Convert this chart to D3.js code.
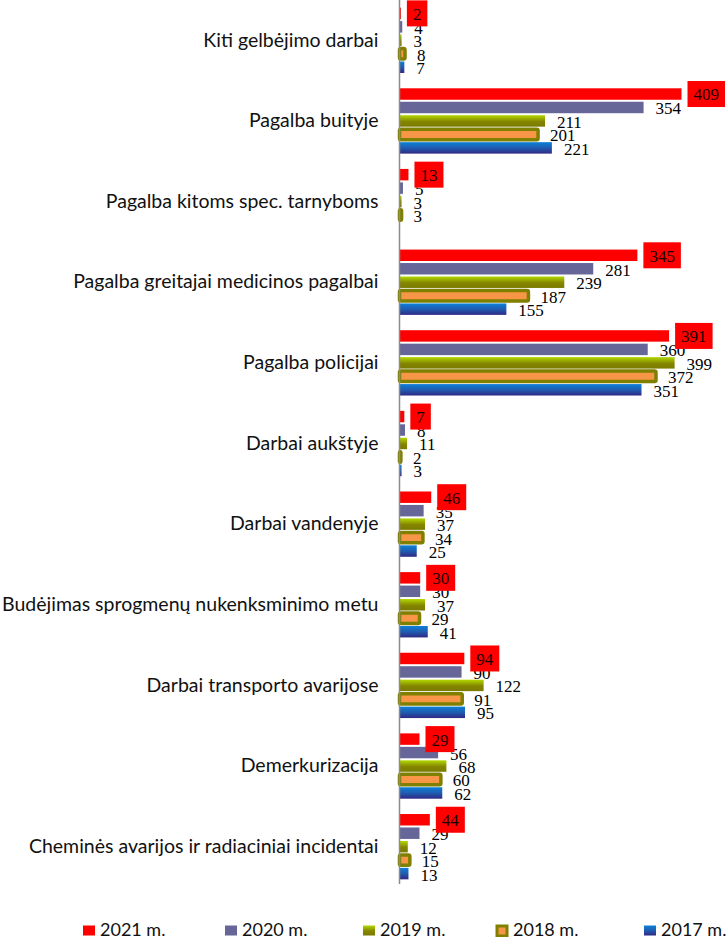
<!DOCTYPE html>
<html>
<head>
<meta charset="utf-8">
<script src="https://cdn.jsdelivr.net/npm/d3@7/dist/d3.min.js"></script>
<style>
  body { margin: 0; background: #fff; }
  #main { display: block; }
</style>
</head>
<body>
<svg id="main"></svg>
<script>
var svgW = 727;
var svgH = 937;

// categories, top to bottom
var cats = [
  "Kiti gelbėjimo darbai",
  "Pagalba buityje",
  "Pagalba kitoms spec. tarnyboms",
  "Pagalba greitajai medicinos pagalbai",
  "Pagalba policijai",
  "Darbai aukštyje",
  "Darbai vandenyje",
  "Budėjimas sprogmenų nukenksminimo metu",
  "Darbai transporto avarijose",
  "Demerkurizacija",
  "Cheminės avarijos ir radiaciniai incidentai"
];
var years = ["2021 m.", "2020 m.", "2019 m.", "2018 m.", "2017 m."];

var v2021 = [2, 409, 13, 345, 391, 7, 46, 30, 94, 29, 44];
var v2020 = [4, 354, 5, 281, 360, 8, 35, 30, 90, 56, 29];
var v2019 = [3, 211, 3, 239, 399, 11, 37, 37, 122, 68, 12];
var v2018 = [8, 201, 3, 187, 372, 2, 34, 29, 91, 60, 15];
var v2017 = [7, 221, null, 155, 351, 3, 25, 41, 95, 62, 13];

var vals = [v2021, v2020, v2019, v2018, v2017];

// legend x offsets (layout only)
var legendX = [83, 225, 363, 496, 644];

function draw() {
  var s = d3.select("#main").attr("width", svgW).attr("height", svgH);
  s.selectAll("*").remove();

  var defs = s.append("defs");
  var g19 = defs.append("linearGradient").attr("id", "g2019")
    .attr("x1", 0).attr("y1", 0).attr("x2", 0).attr("y2", 1);
  g19.append("stop").attr("offset", "0").attr("stop-color", "#b2d800");
  g19.append("stop").attr("offset", "0.55").attr("stop-color", "#858500");
  g19.append("stop").attr("offset", "1").attr("stop-color", "#7a7a00");
  var g17 = defs.append("linearGradient").attr("id", "g2017")
    .attr("x1", 0).attr("y1", 0).attr("x2", 0).attr("y2", 1);
  g17.append("stop").attr("offset", "0").attr("stop-color", "#0c80d8");
  g17.append("stop").attr("offset", "0.5").attr("stop-color", "#1f5cb0");
  g17.append("stop").attr("offset", "1").attr("stop-color", "#302884");

  var fills = ["#ff0000", "#666699", "url(#g2019)", "#f79646", "url(#g2017)"];

  var y0 = d3.scaleBand().domain(cats).range([0, 887])
    .paddingInner(0.19).paddingOuter(0.095);
  var y1 = d3.scaleBand().domain(years).range([0, y0.bandwidth()])
    .paddingInner(0.15);
  var x = d3.scaleLinear().domain([0, 500]).range([399.5, 399.5 + 500 * 0.6895]);

  var rows = [];
  cats.forEach(function(c, i) {
    years.forEach(function(yr, j) {
      if (vals[j][i] != null) rows.push({cat: c, year: yr, j: j, v: vals[j][i]});
    });
  });

  var bw = y1.bandwidth();
  var bars = s.append("g");
  bars.selectAll("rect").data(rows).enter().append("rect")
    .attr("x", x(0))
    .attr("y", function(d) { return y0(d.cat) + y1(d.year) + (d.j == 3 ? 0.5 : 0); })
    .attr("width", function(d) { return x(d.v) - x(0); })
    .attr("height", function(d) { return d.j == 3 ? bw - 1 : bw; })
    .attr("rx", function(d) { return d.j == 3 ? 1.5 : 0; })
    .attr("fill", function(d) { return fills[d.j]; })
    .attr("stroke", function(d) { return d.j == 3 ? "#808000" : "none"; })
    .attr("stroke-width", 3.5);

  // axis with category labels
  var ax = s.append("g").attr("transform", "translate(" + x(0) + ",0)")
    .call(d3.axisLeft(y0).tickSize(0).tickPadding(21));
  ax.select(".domain").attr("stroke", "#8c8c8c").attr("stroke-width", 1.5)
    .attr("d", "M0,0V884");
  ax.selectAll("text")
    .style("font-family", "Lato, sans-serif")
    .style("font-size", "19.5px")
    .attr("fill", "#111");

  // value labels (other years)
  var lab = s.append("g")
    .style("font-family", "'Liberation Serif', serif")
    .style("font-size", "17px");
  lab.selectAll("text").data(rows.filter(function(d) { return d.j > 0; })).enter()
    .append("text")
    .attr("x", function(d) { return x(d.v) + 12; })
    .attr("y", function(d) { return y0(d.cat) + y1(d.year) + bw / 2 + 1; })
    .attr("dy", "0.35em")
    .text(function(d) { return d.v; });

  // 2021 labels in red boxes
  var boxes = lab.selectAll("g.box").data(rows.filter(function(d) { return d.j == 0; })).enter()
    .append("g").attr("class", "box");
  boxes.append("rect").attr("fill", "#ff0000");
  boxes.append("text")
    .attr("text-anchor", "middle")
    .attr("dy", "0.35em")
    .attr("fill", "#1a0000")
    .text(function(d) { return d.v; });
  boxes.each(function(d) {
    var g = d3.select(this);
    var tw = g.select("text").node().getComputedTextLength();
    var bx = x(d.v) + 6, bwid = tw + 12;
    var cy = y0(d.cat) + y1(d.year) + bw / 2;
    g.select("rect").attr("x", bx).attr("y", cy - 13).attr("width", bwid).attr("height", 26);
    g.select("text").attr("x", bx + bwid / 2).attr("y", cy + 0.5);
  });

  // legend
  var leg = s.append("g").selectAll("g").data(years).enter().append("g")
    .attr("transform", function(d, i) { return "translate(" + legendX[i] + ",925.5)"; });
  leg.append("rect")
    .attr("x", function(d, i) { return i == 3 ? 1 : 0; })
    .attr("y", function(d, i) { return i == 3 ? 0.5 : 0; })
    .attr("width", function(d, i) { return i == 3 ? 10 : 12; })
    .attr("height", 10)
    .attr("fill", function(d, i) { return fills[i]; })
    .attr("stroke", function(d, i) { return i == 3 ? "#808000" : "none"; })
    .attr("stroke-width", 3);
  leg.append("text")
    .attr("x", function(d, i) { return i == 3 ? 17 : 17; })
    .attr("y", 10.5)
    .style("font-family", "Lato, sans-serif")
    .style("font-size", "18px")
    .attr("fill", "#111")
    .text(function(d) { return d; });
}

draw();
</script>
</body>
</html>
